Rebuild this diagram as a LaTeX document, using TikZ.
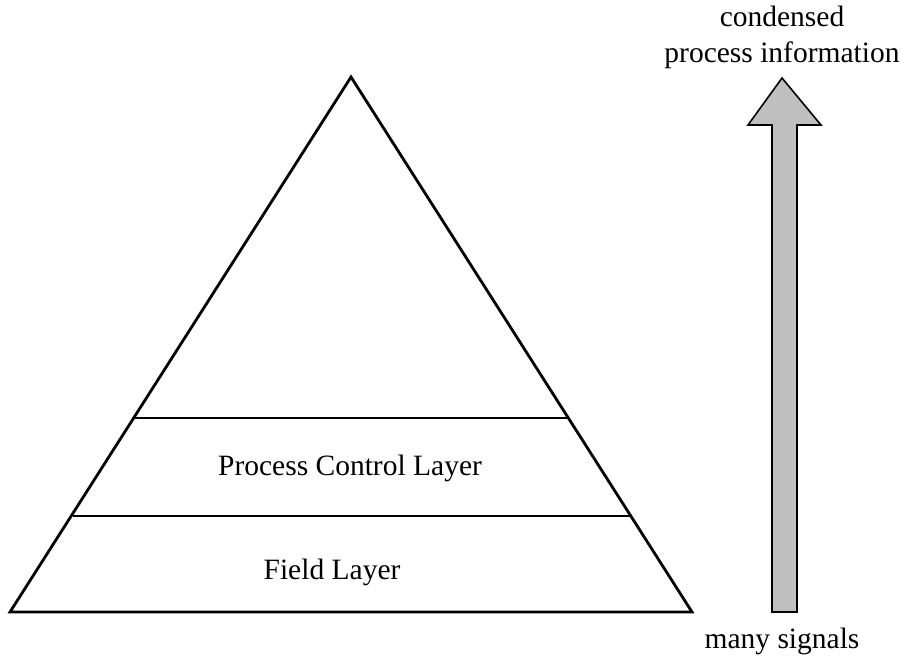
\documentclass[tikz,border=0pt]{standalone}
\usepackage{fontspec}
\setmainfont{Liberation Serif}
\begin{document}
\begin{tikzpicture}[x=1pt,y=-1pt,
  outline/.style={draw=black,line width=2.8pt,line join=miter},
  divider/.style={draw=black,line width=1.5pt},
  label/.style={font=\fontsize{29.5}{36}\selectfont,inner sep=0pt,align=center},
  bigarrow/.style={draw=black,line width=1.6pt,fill=black!25,line join=miter}]
\useasboundingbox (0,0) rectangle (901,657);
% pyramid corners
\coordinate (apex) at (351,77);
\coordinate (bl) at (10,612);
\coordinate (br) at (692,612);
\draw[outline] (bl) -- (apex) -- (br) -- cycle;
% layer dividers
\coordinate (d1l) at (135,418);
\coordinate (d1r) at (567,418);
\coordinate (d2l) at (73,516);
\coordinate (d2r) at (630,516);
\draw[divider] (d1l) -- (d1r);
\draw[divider] (d2l) -- (d2r);
\node[label] (pcl) at (350,468) {Process Control Layer};
\node[label] (fl) at (332,572) {Field Layer};
% upward arrow
\draw[bigarrow] (772,612) -- (772,125) -- (748,125) -- (782,78) -- (821,125) -- (797,125) -- (797,612) -- cycle;
\node[label] (top) at (782,37) {condensed\\process information};
\node[label] (bot) at (782,641) {many signals};
\end{tikzpicture}
\end{document}
